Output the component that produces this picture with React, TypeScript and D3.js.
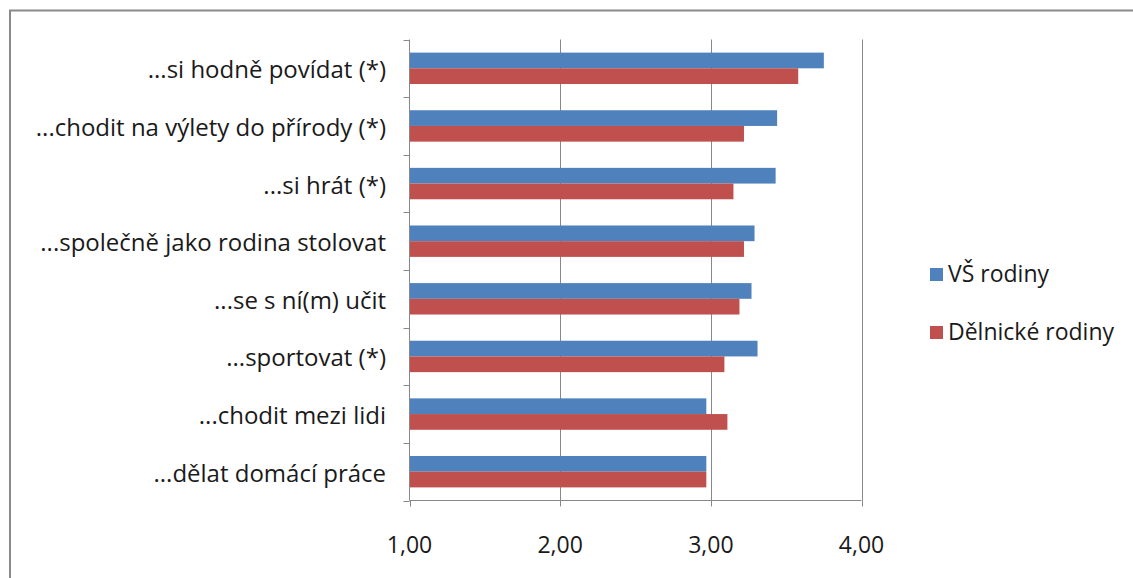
import React from "react";
import * as d3 from "d3";

const categories = [
  "...si hodně povídat (*)",
  "...chodit na výlety do přírody (*)",
  "...si hrát (*)",
  "...společně jako rodina stolovat",
  "...se s ní(m) učit",
  "...sportovat (*)",
  "...chodit mezi lidi",
  "...dělat domácí práce",
];
const seriesNames = ["VŠ rodiny", "Dělnické rodiny"];
const vsValues = [3.75, 3.44, 3.43, 3.29, 3.27, 3.31, 2.97, 2.97];
const delValues = [3.58, 3.22, 3.15, 3.22, 3.19, 3.09, 3.11, 2.97];
const colors = ["#4F81BD", "#C0504D"];
const xTicks = [1, 2, 3, 4];
const tickFormat = (v: number) => v.toFixed(2).replace(".", ",");

const W = 1133;
const H = 578;
const left = 409.5;
const right = 861.5;
const top = 39.5;
const bottom = 500.5;
const FONT = "'Open Sans', 'DejaVu Sans', sans-serif";

export default function App() {
  const x = d3.scaleLinear().domain([1, 4]).range([left, right]);
  const y = d3.scaleBand<string>().domain(categories).range([top, bottom]).padding(0);
  const step = y.step();
  const groupH = step * 0.545;
  const off = (step - groupH) / 2;
  const ySub = d3
    .scaleBand<string>()
    .domain(seriesNames)
    .range([off, off + groupH])
    .padding(0);
  const series = [vsValues, delValues];
  const grid = "#888888";
  const fs = 23;

  return (
    <svg
      width={W}
      height={H}
      style={{ position: "absolute", left: 0, top: 0, background: "#fff" }}
      fontFamily={FONT}
    >
      <rect x={0} y={0} width={W} height={H} fill="#fff" />
      {/* frame */}
      <path d={`M10,${H + 5} L10,10.5 L${W + 5},10.5`} fill="none" stroke="#8a8a8a" strokeWidth={2} />
      {/* gridlines */}
      {xTicks.slice(1).map((t) => (
        <line key={t} x1={Math.round(x(t)) + 0.5} x2={Math.round(x(t)) + 0.5} y1={top} y2={bottom} stroke={grid} strokeWidth={1} />
      ))}
      {/* bars */}
      {categories.map((c, i) =>
        series.map((s, si) => (
          <rect
            key={c + si}
            x={x(1)}
            y={(y(c) as number) + (ySub(seriesNames[si]) as number)}
            width={x(s[i]) - x(1)}
            height={ySub.bandwidth()}
            fill={colors[si]}
          />
        ))
      )}
      {/* y axis */}
      <line x1={left} x2={left} y1={top} y2={bottom} stroke={grid} />
      {d3.range(categories.length + 1).map((k) => {
        const yy = Math.round(top + k * step) + 0.5;
        return <line key={k} x1={left - 6} x2={left} y1={yy} y2={yy} stroke={grid} />;
      })}
      {/* x axis */}
      <line x1={left} x2={right} y1={bottom} y2={bottom} stroke={grid} />
      {xTicks.map((t) => (
        <line key={t} x1={Math.round(x(t)) + 0.5} x2={Math.round(x(t)) + 0.5} y1={bottom} y2={bottom + 6} stroke={grid} />
      ))}
      {xTicks.map((t) => (
        <text key={t} x={x(t)} y={553} textAnchor="middle" fontSize={fs} fill="#1a1a1a">
          {tickFormat(t)}
        </text>
      ))}
      {/* category labels */}
      {categories.map((c) => (
        <text
          key={c}
          x={386}
          y={(y(c) as number) + step / 2 + 10}
          textAnchor="end"
          fontSize={24}
          fill="#1a1a1a"
        >
          {c}
        </text>
      ))}
      {/* legend */}
      {seriesNames.map((n, i) => (
        <g key={n} transform={`translate(930, ${268 + i * 58})`}>
          <rect x={0} y={0} width={13} height={13} fill={colors[i]} />
          <text x={18} y={14} fontSize={fs} fill="#1a1a1a">
            {n}
          </text>
        </g>
      ))}
    </svg>
  );
}
